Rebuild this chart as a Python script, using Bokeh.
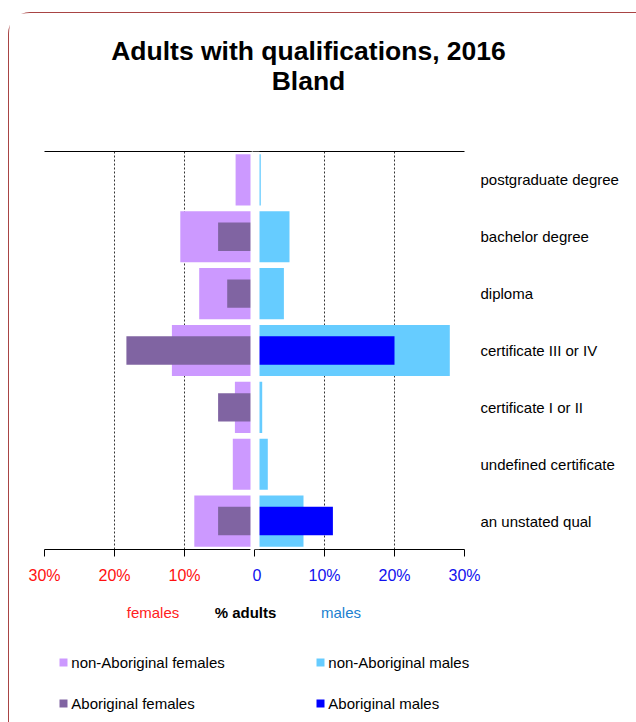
from bokeh.plotting import figure
from bokeh.layouts import column, row
from bokeh.embed import file_html
from bokeh.resources import INLINE
from bokeh.models import (ColumnDataSource, Range1d, LinearAxis, FixedTicker,
                          Label, Legend, LegendItem, BoxAnnotation)

# ---- data (top to bottom as shown) ----
categories = ["postgraduate degree", "bachelor degree", "diploma", "certificate III or IV",
              "certificate I or II", "undefined certificate", "an unstated qual"]
nonab_females = [2.7, 10.6, 7.9, 11.8, 2.8, 3.1, 8.6]
ab_females = [0.0, 5.2, 3.9, 18.3, 5.2, 0.0, 5.2]
nonab_males = [0.9, 5.0, 4.2, 27.9, 1.1, 1.9, 7.0]
ab_males = [0.0, 0.0, 0.0, 20.0, 0.0, 0.0, 11.2]
female_ticks = [-30, -20, -10]
female_tick_labels = ["30%", "20%", "10%"]
male_ticks = [0, 10, 20, 30]
male_tick_labels = ["0", "10%", "20%", "30%"]

FONT = "Liberation Sans"
C_NF, C_AF, C_NM, C_AM = "#CC99FF", "#8064A2", "#66CCFF", "#0000FF"
OX, OY = 9, 13           # content origin inside page picture
CW = 627                 # content width
TOP_H, MID_H, BOT_H = 130, 447, 132
PX = 7.0                 # pixels per percentage point

n = len(categories)
ypos = list(range(n - 1, -1, -1))
yr = Range1d(-0.5, n - 0.5)
src = ColumnDataSource(dict(y=ypos,
                            nf=[-v for v in nonab_females], af=[-v for v in ab_females],
                            nm=nonab_males, am=ab_males))


def blank(h, y0):
    f = figure(width=CW, height=h, x_range=Range1d(OX, OX + CW), y_range=Range1d(y0 + h, y0),
               x_axis_location=None, y_axis_location=None, output_backend="svg",
               toolbar_location=None, min_border=0)
    f.outline_line_color = None
    f.grid.grid_line_color = None
    return f


def lab(f, text, x, y, size, color, bold=False):
    f.add_layout(Label(x=x, y=y, text=text, text_align="center", text_baseline="middle",
                       text_font=FONT, text_font_size=size, text_color=color,
                       text_font_style="bold" if bold else "normal"))


# ---------------- title ----------------
ptop = blank(TOP_H, OY)
lab(ptop, "Adults with qualifications, 2016", 308, 50, "26.5px", "black", bold=True)
lab(ptop, "Bland", 308, 80, "26.5px", "black", bold=True)


def style_bottom_axis(ax, color):
    ax.major_label_text_color = color
    ax.major_label_text_font = FONT
    ax.major_label_text_font_size = "16px"
    ax.major_label_standoff = 10
    ax.major_tick_in = 0
    ax.major_tick_out = 7
    ax.minor_tick_line_color = None
    ax.axis_line_color = "black"
    ax.major_tick_line_color = "black"


def top_line(f):
    f.add_layout(LinearAxis(major_tick_line_color=None, minor_tick_line_color=None,
                            major_label_text_color=None, major_label_text_font_size="0px",
                            axis_line_color="black"), "above")


# ---------------- females (left) ----------------
LW = 243                     # left figure width (frame ends at the split)
L_LEFT = 35
lf_w = LW - L_LEFT
pl = figure(width=LW, height=MID_H, y_range=yr, x_range=Range1d(-30, -30 + lf_w / PX),
            y_axis_location=None, output_backend="svg", toolbar_location=None,
            min_border_left=L_LEFT, min_border_right=0, min_border_top=8, min_border_bottom=41)
pl.outline_line_color = None
pl.border_fill_color = None
rf1 = pl.hbar(y="y", left="nf", right=0, height=0.9, fill_color=C_NF, line_color=None, source=src)
rf2 = pl.hbar(y="y", left="af", right=0, height=0.5, fill_color=C_AF, line_color=None, source=src)
pl.add_layout(BoxAnnotation(left=-4 / PX, right=0, fill_color="white", fill_alpha=1, line_color=None))
pl.xgrid.ticker = FixedTicker(ticks=female_ticks)
pl.xgrid.grid_line_color = "#333333"
pl.xgrid.grid_line_dash = "2 2"
pl.ygrid.grid_line_color = None
pl.xaxis[0].ticker = FixedTicker(ticks=female_ticks)
pl.xaxis[0].major_label_overrides = dict(zip(female_ticks, female_tick_labels))
pl.xaxis[0].bounds = (-30, -4 / PX)
style_bottom_axis(pl.xaxis[0], "#ff1010")
top_line(pl)

# ---------------- males (right) ----------------
RW = CW - LW
R_RIGHT = 172
rf_w = RW - R_RIGHT
pr = figure(width=RW, height=MID_H, y_range=yr, x_range=Range1d(30 - rf_w / PX, 30),
            y_axis_location=None, output_backend="svg", toolbar_location=None,
            min_border_left=0, min_border_right=R_RIGHT, min_border_top=8, min_border_bottom=41)
pr.outline_line_color = None
pr.border_fill_color = None
rm1 = pr.hbar(y="y", left=0, right="nm", height=0.9, fill_color=C_NM, line_color=None, source=src)
rm2 = pr.hbar(y="y", left=0, right="am", height=0.5, fill_color=C_AM, line_color=None, source=src)
pr.add_layout(BoxAnnotation(left=-1, right=5 / PX, fill_color="white", fill_alpha=1, line_color=None))
pr.xgrid.ticker = FixedTicker(ticks=male_ticks[1:])
pr.xgrid.grid_line_color = "#333333"
pr.xgrid.grid_line_dash = "2 2"
pr.ygrid.grid_line_color = None
pr.xaxis[0].ticker = FixedTicker(ticks=male_ticks)
pr.xaxis[0].major_label_overrides = dict(zip(male_ticks, male_tick_labels))
pr.xaxis[0].bounds = (0, 30)
style_bottom_axis(pr.xaxis[0], "#1010ee")
top_line(pr)
ya = LinearAxis(ticker=FixedTicker(ticks=ypos),
                major_label_overrides={y: c for y, c in zip(ypos, categories)},
                axis_line_color=None, major_tick_line_color=None, minor_tick_line_color=None,
                major_tick_in=0, major_tick_out=0,
                major_label_standoff=16, major_label_text_font=FONT,
                major_label_text_font_size="15px", major_label_text_color="black")
pr.add_layout(ya, "right")

# ---------------- bottom: axis caption + legend ----------------
pbot = blank(BOT_H, OY + TOP_H + MID_H)
lab(pbot, "females", 152.5, 612, "15px", "#ff2020")
lab(pbot, "% adults", 245, 612, "15px", "black", bold=True)
lab(pbot, "males", 340.5, 612, "15px", "#2080d0")
# legend proxies: same data, mapped onto ranges far outside this strip
pbot.extra_x_ranges = {"off": Range1d(1000, 1001)}
pbot.extra_y_ranges = {"off": Range1d(1000, 1001)}
proxy = dict(source=src, line_color=None, x_range_name="off", y_range_name="off")
g1 = pbot.hbar(y="y", left="nf", right=0, height=0.9, fill_color=C_NF, **proxy)
g2 = pbot.hbar(y="y", left=0, right="nm", height=0.9, fill_color=C_NM, **proxy)
g3 = pbot.hbar(y="y", left="af", right=0, height=0.5, fill_color=C_AF, **proxy)
g4 = pbot.hbar(y="y", left=0, right="am", height=0.5, fill_color=C_AM, **proxy)
legend = Legend(items=[LegendItem(label="non-Aboriginal females", renderers=[g1]),
                       LegendItem(label="non-Aboriginal males", renderers=[g2]),
                       LegendItem(label="Aboriginal females", renderers=[g3]),
                       LegendItem(label="Aboriginal males", renderers=[g4])],
                orientation="horizontal", ncols=2, location=(49.3, 10.5),
                border_line_color=None, background_fill_alpha=0, padding=0, margin=0,
                spacing=24, glyph_width=10, glyph_height=10, label_standoff=3,
                label_width=220, label_height=10, label_text_font=FONT,
                label_text_font_size="15px", label_text_color="black")
pbot.add_layout(legend, "center")

layout = column(ptop, row(pl, pr), pbot, spacing=0)
layout.styles = {"margin-left": "8px", "margin-top": "12px",
                 "border-left": "1px solid #a84444", "border-top": "1px solid #a84444",
                 "border-top-left-radius": "22px"}

open("out.html", "w").write(file_html(layout, INLINE))
